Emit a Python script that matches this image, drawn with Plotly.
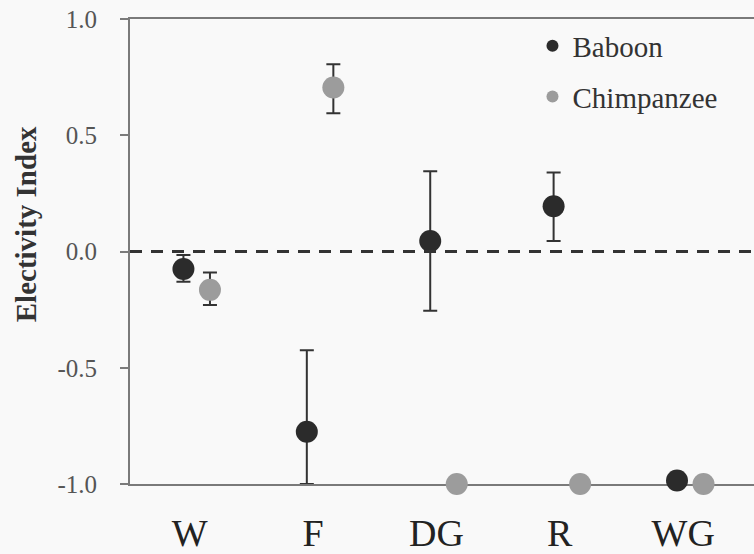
import plotly.graph_objects as go

# ---- data ----
categories = ["W", "F", "DG", "R", "WG"]

baboon = [-0.075, -0.775, 0.045, 0.195, -0.985]
baboon_err_plus = [0.06, 0.35, 0.30, 0.145, None]
baboon_err_minus = [0.055, 0.225, 0.30, 0.15, None]

chimp = [-0.165, 0.705, -1.0, -1.0, -1.0]
chimp_err_plus = [0.075, 0.10, None, None, None]
chimp_err_minus = [0.065, 0.11, None, None, None]

y_ticks = [-1.0, -0.5, 0.0, 0.5, 1.0]
y_tick_labels = ["-1.0", "-0.5", "0.0", "0.5", "1.0"]

# ---- style ----
BABOON_COLOR = "#2b2b2b"
CHIMP_COLOR = "#9c9c9c"
BABOON_DODGE = -0.05
CHIMP_DODGE = 0.165
SERIF = "Liberation Serif, Times New Roman, serif"

idx = list(range(len(categories)))

fig = go.Figure()
fig.add_trace(go.Scatter(
    x=[i + BABOON_DODGE for i in idx], y=baboon, mode="markers", name="Baboon",
    legendgroup="b",
    marker=dict(size=22, color=BABOON_COLOR),
    error_y=dict(type="data", symmetric=False, array=baboon_err_plus,
                 arrayminus=baboon_err_minus, color="#333333", thickness=2, width=7),
    cliponaxis=False,
))
fig.add_trace(go.Scatter(
    x=[i + CHIMP_DODGE for i in idx], y=chimp, mode="markers", name="Chimpanzee",
    legendgroup="c",
    marker=dict(size=22, color=CHIMP_COLOR),
    error_y=dict(type="data", symmetric=False, array=chimp_err_plus,
                 arrayminus=chimp_err_minus, color="#333333", thickness=2, width=7),
    cliponaxis=False,
))

# dashed zero reference line
fig.add_shape(type="line", xref="paper", x0=0, x1=1, yref="y", y0=0, y1=0,
              line=dict(color="#333333", width=3, dash="12px,9px"), layer="above")

# y-axis title
fig.add_annotation(text="<b>Electivity Index</b>", textangle=-90,
                   xref="paper", x=-(130 - 26) / 624, xanchor="center",
                   yref="paper", y=(488 - 226) / 469, yanchor="middle",
                   showarrow=False, font=dict(family=SERIF, size=29, color="#333333"))

fig.update_layout(
    width=754, height=554,
    margin=dict(l=130, r=0, t=19, b=66),
    paper_bgcolor="#f9f9f9", plot_bgcolor="#f9f9f9",
    showlegend=True,
    legend=dict(x=0.645, y=0.997, xanchor="left", yanchor="top",
                bgcolor="rgba(0,0,0,0)", itemsizing="constant",
                tracegroupgap=10,
                font=dict(family=SERIF, size=29, color="#333333")),
    xaxis=dict(range=[-0.483, 4.574], tickmode="array", tickvals=idx,
               ticktext=categories, ticks="", showgrid=False, zeroline=False,
               showline=True, linecolor="#7a7a7a", linewidth=2, mirror=True,
               layer="below traces", ticklabelstandoff=14,
               tickfont=dict(family=SERIF, size=38, color="#222222")),
    yaxis=dict(range=[-1, 1], tickmode="array", tickvals=y_ticks,
               ticktext=y_tick_labels, ticks="outside", ticklen=8, tickwidth=2,
               tickcolor="#7a7a7a", showgrid=False, zeroline=False,
               showline=True, linecolor="#7a7a7a", linewidth=2,
               layer="below traces", ticklabelstandoff=18,
               tickfont=dict(family=SERIF, size=25, color="#555555")),
)

fig.write_html("out.html")
